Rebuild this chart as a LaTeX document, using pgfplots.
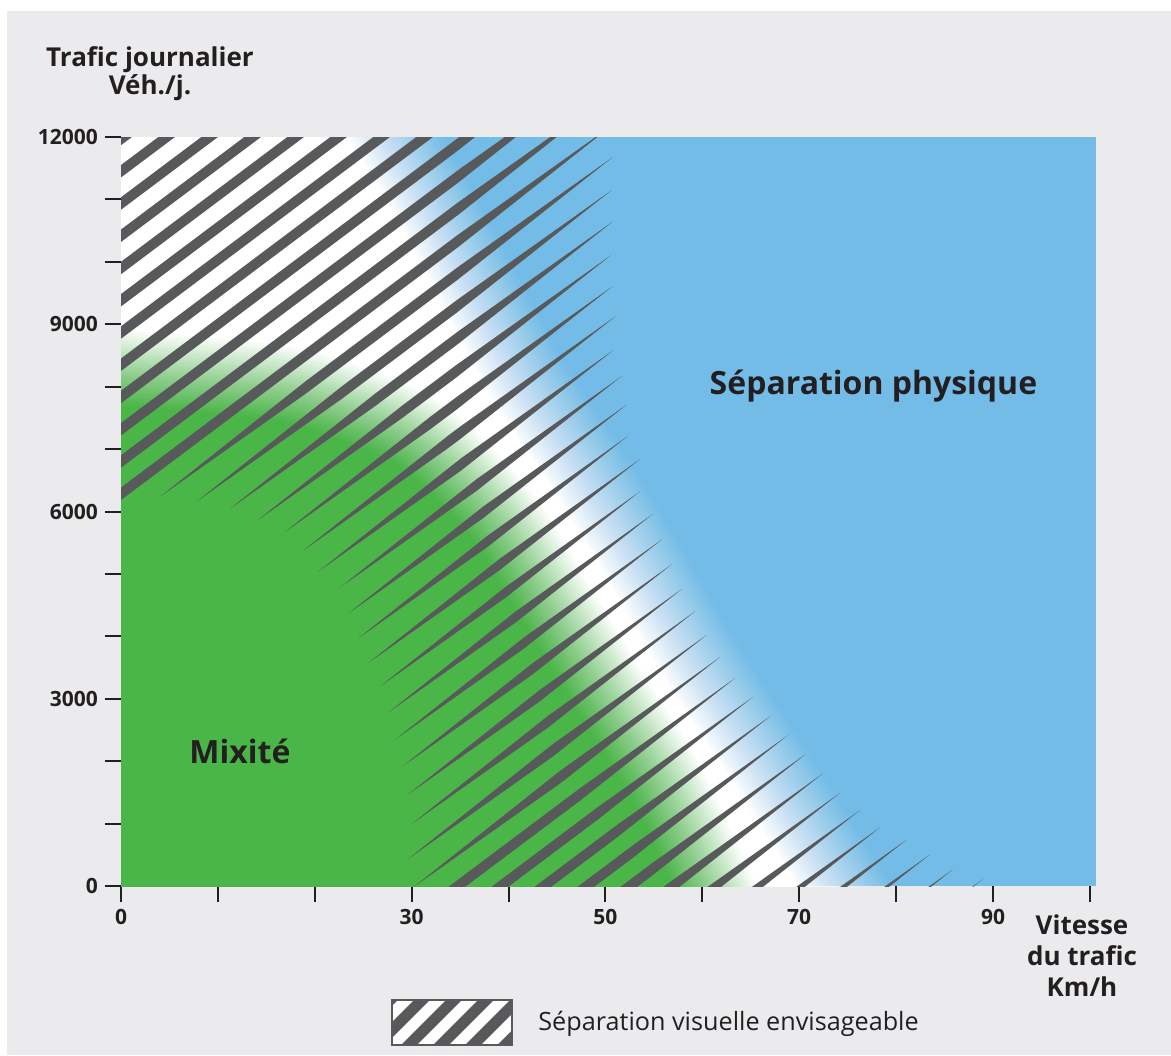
\documentclass[border=0pt]{standalone}
\usepackage{pgfplots}
\pgfplotsset{compat=1.18}
\usepackage{pgfplotstable}
\usepackage{fontspec}
\setmainfont{Open Sans}

\definecolor{cblue}{HTML}{74BCE8}
\definecolor{cgreen}{HTML}{4AB648}
\definecolor{cstripe}{HTML}{58595B}
\definecolor{cbg}{HTML}{EBEBED}
\definecolor{cdark}{HTML}{231F20}

% edge of the white zone (start of the blue fade), km/h vs veh/day
\pgfplotstableread{
x y
13.42 14500
18.27 13250
23.12 12000
27.97 10750
32.61 9389
38.08 7786
44.27 6344
49.95 4902
55.93 3300
62.64 1698
69.56 0
76.47 -1698
83.38 -3397
}\Bcurve

% edge of the solid green zone (start of the green fade)
\pgfplotstableread{
x y
-5 7786
0 7658
15.07 7434
21.88 7146
28.79 6665
36.02 5543
41.69 4101
47.37 2660
52.53 1378
56.66 0
63.88 -2403
}\Gcurve

% hatch stripes: index, left end, right tip (km/h), tapered left end
\pgfplotstableread{
k xL xR tl
0 -3 50.8 0
1 -3 50.8 0
2 -3 50.8 0
3 -3 50.8 0
4 -3 50.8 0
5 -3 50.8 0
6 -3 50.8 0
7 -3 50.8 0
8 -3 50.8 0
9 -3 50.8 0
10 -3 50.8 0
11 -3 50.8 0
12 4.02 50.77 1
13 7.84 50.67 1
14 11.25 50.77 1
15 14.04 50.57 1
16 16.92 50.77 1
17 18.78 51.08 1
18 20.33 50.88 1
19 22.60 51.70 1
20 23.43 52.22 1
21 24.46 52.32 1
22 25.49 53.56 1
23 26.73 53.56 1
24 27.55 54.90 1
25 28.28 55.83 1
26 29.00 56.87 1
27 29.52 57.90 1
28 30.03 59.24 1
29 29.62 60.47 1
30 30.13 61.82 1
31 33.5 63.37 0
32 38.0 65.22 0
33 42.5 67.08 0
34 47.0 68.83 0
35 51.5 70.69 0
36 56.0 72.45 0
37 60.4 74.20 0
38 64.8 76.26 0
39 69.3 78.33 0
40 73.7 81.11 0
41 78.2 83.49 0
42 82.6 85.86 0
43 87.0 88.96 0
}\stripetab

\def\tL{15}
\def\tR{16}

\begin{document}
\begin{tikzpicture}
\begin{scope}[x=0.5pt,y=-0.5pt]
\fill[white] (0,0) rectangle (1171,1055);
\fill[cbg] (7,11) rectangle (1171,1055);
\end{scope}

\begin{axis}[
  at={(60.5pt,-443pt)}, anchor=south west,
  scale only axis, width=487.35pt, height=374.5pt,
  xmin=0, xmax=100.6, ymin=0, ymax=12000,
  scaled ticks=false,
  axis background/.style={fill=cblue},
  axis line style={draw=none},
  xtick={0,10,...,100},
  xticklabels={0,,,30,,50,,70,,90,},
  ytick={0,1000,...,12000},
  yticklabels={0,,,3000,,,6000,,,9000,,,12000},
  tick align=outside, tick pos=left,
  major tick length=8pt,
  tick style={line width=1pt, draw=cdark},
  ticklabel style={font=\fontsize{10.5}{12}\selectfont\bfseries, text=cdark},
  every axis plot/.append style={mark=none},
]
% white zone
\addplot[fill=white, draw=none] coordinates {(-5,15000) (13.42,14500) (18.27,13250) (23.12,12000) (27.97,10750) (32.61,9389) (38.08,7786) (44.27,6344) (49.95,4902) (55.93,3300) (62.64,1698) (69.56,0) (76.47,-1698) (83.38,-3397) (-5,-3397)};
\pgfplotsforeachungrouped \m in {28,27,...,1}{%
  \pgfmathsetmacro\op{1/\m}%
  \pgfmathsetmacro\lw{82*\m/28}%
  \edef\tmp{\noexpand\addplot[smooth, draw=white, draw opacity=\op, line width=\lw pt, line cap=butt, line join=round] table {\noexpand\Bcurve};}%
  \tmp
}
% green zone
\addplot[fill=cgreen, draw=none] coordinates {(-5,-3000) (-5,7786) (0,7658) (15.07,7434) (21.88,7146) (28.79,6665) (36.02,5543) (41.69,4101) (47.37,2660) (52.53,1378) (56.66,0) (63.88,-2403)};
\pgfplotsforeachungrouped \m in {28,27,...,1}{%
  \pgfmathsetmacro\op{1/\m}%
  \pgfmathsetmacro\lw{78*\m/28}%
  \edef\tmp{\noexpand\addplot[smooth, draw=cgreen, draw opacity=\op, line width=\lw pt, line cap=butt, line join=round] table {\noexpand\Gcurve};}%
  \tmp
}
% hatching (y computed in hundreds of veh/day)
\pgfplotsforeachungrouped \i in {0,...,43}{%
  \pgfplotstablegetelem{\i}{k}\of\stripetab \let\sk=\pgfplotsretval
  \pgfplotstablegetelem{\i}{xL}\of\stripetab \let\sxl=\pgfplotsretval
  \pgfplotstablegetelem{\i}{xR}\of\stripetab \let\sxr=\pgfplotsretval
  \pgfplotstablegetelem{\i}{tl}\of\stripetab \let\stl=\pgfplotsretval
  \ifnum\stl=1
    \pgfmathsetmacro\xs{\sxl+(\sxr-\sxl)*\tL/(\tL+\tR)}%
    \pgfmathsetmacro\pa{min(\sxl+\tL,\xs)}%
    \pgfmathsetmacro\pb{max(\sxr-\tR,\xs)}%
    \pgfmathsetmacro\wa{min(1,(\pa-\sxl)/\tL,(\sxr-\pa)/\tR)}%
    \def\wz{0}%
  \else
    \let\pa=\sxl
    \pgfmathsetmacro\pb{max(\sxr-\tR,\sxl)}%
    \pgfmathsetmacro\wa{min(1,(\sxr-\pa)/\tR)}%
    \let\wz=\wa
  \fi
  \pgfmathsetmacro\wb{min(1,(\sxr-\pb)/\tR)}%
  \pgfmathsetmacro\yLu{119.68+1.1644*\sxl-5.1669*\sk+\wz}%
  \pgfmathsetmacro\yLd{119.68+1.1644*\sxl-5.1669*\sk-\wz}%
  \pgfmathsetmacro\yAu{119.68+1.1644*\pa-5.1669*\sk+\wa}%
  \pgfmathsetmacro\yAd{119.68+1.1644*\pa-5.1669*\sk-\wa}%
  \pgfmathsetmacro\yBu{119.68+1.1644*\pb-5.1669*\sk+\wb}%
  \pgfmathsetmacro\yBd{119.68+1.1644*\pb-5.1669*\sk-\wb}%
  \pgfmathsetmacro\yR{119.68+1.1644*\sxr-5.1669*\sk}%
  \edef\tmp{\noexpand\addplot[fill=cstripe, draw=none, y filter/.expression={100*y}] coordinates {(\sxl,\yLu) (\pa,\yAu) (\pb,\yBu) (\sxr,\yR) (\pb,\yBd) (\pa,\yAd) (\sxl,\yLd)};}%
  \tmp
}
\node[anchor=base, font=\fontsize{16}{18}\selectfont\bfseries, text=cdark] at (axis cs:12.28,1955) {Mixité};
\node[anchor=base, font=\fontsize{16}{18}\selectfont\bfseries, text=cdark] at (axis cs:77.66,7867) {Séparation physique};
\end{axis}

\begin{scope}[x=0.5pt,y=-0.5pt]
\node[anchor=north, align=center, font=\fontsize{13}{14}\selectfont\bfseries, text=cdark, inner sep=0pt] at (150,46) {Trafic journalier\\Véh./j.};
\node[anchor=north, align=center, font=\fontsize{13}{15.5}\selectfont\bfseries, text=cdark, inner sep=0pt] at (1082,914) {Vitesse\\du trafic\\Km/h};
% legend
\begin{scope}
\clip (392,1000) rectangle (512,1045);
\fill[white] (392,1000) rectangle (512,1045);
\foreach \s in {330,362,...,530} {\draw[cstripe, line width=5.5pt] (\s,1060) -- (\s+80,980);}
\end{scope}
\draw[cstripe, line width=1pt] (392,1000) rectangle (512,1045);
\node[anchor=base west, font=\fontsize{12.6}{14}\selectfont, text=cdark, inner sep=0pt] at (538,1030) {Séparation visuelle envisageable};
\end{scope}
\pgfresetboundingbox
\path[use as bounding box] (0,0) rectangle (585.5pt,-527.5pt);
\end{tikzpicture}
\end{document}
